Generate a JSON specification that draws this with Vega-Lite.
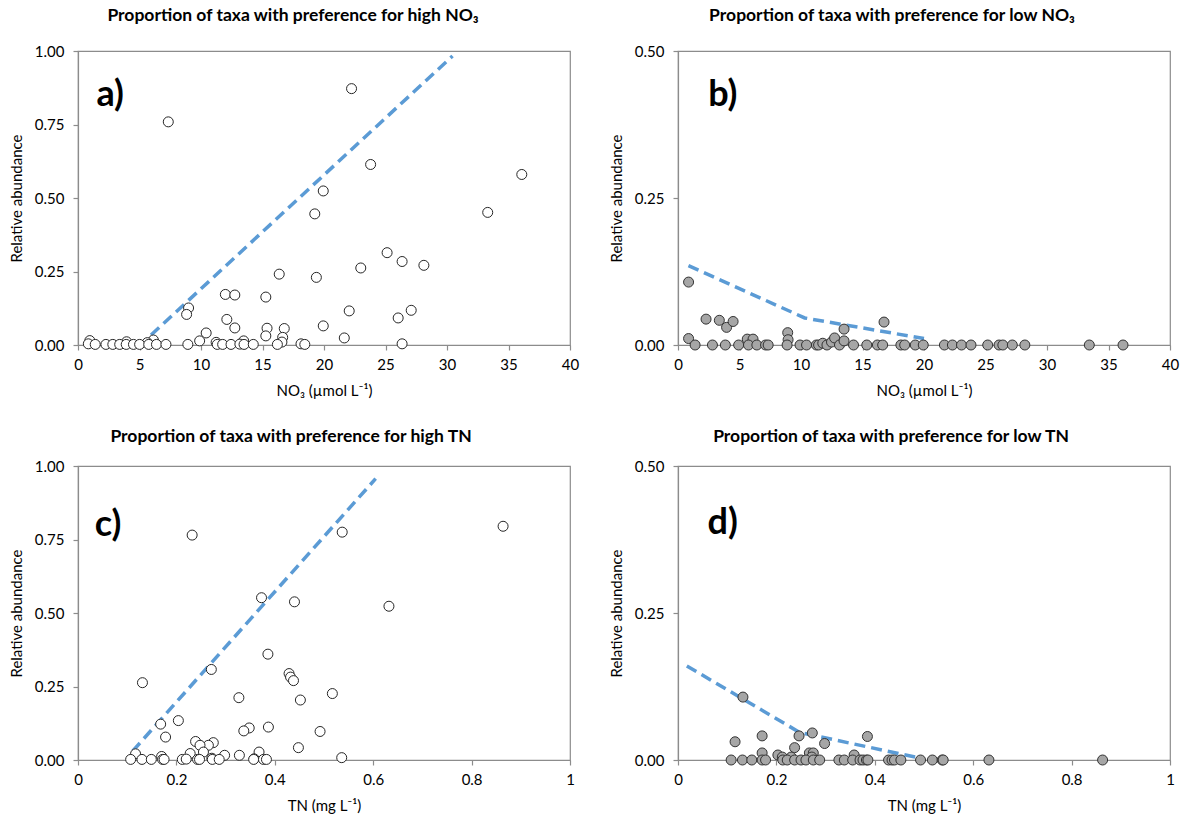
{
  "$schema": "https://vega.github.io/schema/vega-lite/v6.json",
  "background": "white",
  "padding": {"left": 8, "top": 5, "right": 0, "bottom": 0},
  "config": {
    "font": "Lato",
    "view": {"stroke": "#8c8c8c", "strokeWidth": 1.2},
    "axis": {"domainColor": "#8c8c8c", "tickColor": "#8c8c8c", "domainWidth": 1.2, "tickWidth": 1.2, "tickSize": 5, "grid": false, "labelFont": "Lato", "labelFontSize": 15, "labelColor": "#000000", "titleFont": "Lato", "titleFontSize": 15, "titleFontWeight": "normal", "titleColor": "#000000"},
    "axisY": {"labelPadding": 9, "titlePadding": 10},
    "axisX": {"labelPadding": 7, "titlePadding": 11, "labelFlush": false},
    "title": {"font": "Lato", "fontSize": 17.5, "fontWeight": "bold", "color": "#000000", "anchor": "middle"}
  },
  "datasets": {
    "ptsA": [
      {"x": 7.34, "y": 0.759}, {"x": 22.24, "y": 0.872}, {"x": 23.79, "y": 0.614}, {"x": 19.94, "y": 0.524}, {"x": 19.25, "y": 0.446},
      {"x": 36.08, "y": 0.58}, {"x": 33.31, "y": 0.451}, {"x": 25.13, "y": 0.314}, {"x": 26.35, "y": 0.284}, {"x": 28.12, "y": 0.271},
      {"x": 22.99, "y": 0.262}, {"x": 16.36, "y": 0.241}, {"x": 19.38, "y": 0.23}, {"x": 11.98, "y": 0.172}, {"x": 12.75, "y": 0.17},
      {"x": 15.27, "y": 0.163}, {"x": 8.99, "y": 0.126}, {"x": 8.83, "y": 0.104}, {"x": 22.05, "y": 0.116}, {"x": 27.09, "y": 0.118},
      {"x": 26.03, "y": 0.092}, {"x": 12.1, "y": 0.087}, {"x": 19.94, "y": 0.065}, {"x": 12.75, "y": 0.058}, {"x": 15.37, "y": 0.057},
      {"x": 16.77, "y": 0.056}, {"x": 15.27, "y": 0.031}, {"x": 16.64, "y": 0.026}, {"x": 10.42, "y": 0.041}, {"x": 21.65, "y": 0.024},
      {"x": 9.89, "y": 0.014}, {"x": 6.13, "y": 0.017}, {"x": 0.96, "y": 0.015}, {"x": 3.95, "y": 0.011}, {"x": 5.63, "y": 0.008},
      {"x": 13.47, "y": 0.014}, {"x": 11.23, "y": 0.009}, {"x": 16.58, "y": 0.01},
      {"x": 0.84, "y": 0.004}, {"x": 1.4, "y": 0.002}, {"x": 2.27, "y": 0.002}, {"x": 2.83, "y": 0.002}, {"x": 3.39, "y": 0.002},
      {"x": 3.92, "y": 0.002}, {"x": 4.51, "y": 0.002}, {"x": 5.01, "y": 0.002}, {"x": 5.75, "y": 0.002}, {"x": 6.38, "y": 0.002},
      {"x": 7.15, "y": 0.002}, {"x": 8.93, "y": 0.002}, {"x": 11.32, "y": 0.002}, {"x": 11.76, "y": 0.002}, {"x": 12.44, "y": 0.002},
      {"x": 13.16, "y": 0.003}, {"x": 13.5, "y": 0.002}, {"x": 14.25, "y": 0.002}, {"x": 16.21, "y": 0.002}, {"x": 18.13, "y": 0.004},
      {"x": 18.44, "y": 0.002}, {"x": 26.35, "y": 0.004}
    ],
    "lineA": [{"x": 5.94, "y": 0.034}, {"x": 30.45, "y": 0.983}],
    "ptsB": [
      {"x": 0.86, "y": 0.107}, {"x": 0.86, "y": 0.011}, {"x": 1.39, "y": 0}, {"x": 2.28, "y": 0.044}, {"x": 2.8, "y": 0},
      {"x": 3.36, "y": 0.042}, {"x": 3.95, "y": 0.03}, {"x": 4.48, "y": 0.04}, {"x": 3.85, "y": 0}, {"x": 4.93, "y": 0},
      {"x": 5.63, "y": 0.01}, {"x": 6.1, "y": 0.01}, {"x": 5.73, "y": 0}, {"x": 6.41, "y": 0}, {"x": 7.12, "y": 0},
      {"x": 7.33, "y": 0}, {"x": 8.92, "y": 0.021}, {"x": 8.95, "y": 0.009}, {"x": 8.87, "y": 0}, {"x": 9.92, "y": 0},
      {"x": 10.45, "y": 0}, {"x": 11.25, "y": 0}, {"x": 11.43, "y": 0}, {"x": 11.77, "y": 0.003}, {"x": 12.11, "y": 0},
      {"x": 12.48, "y": 0.005}, {"x": 12.73, "y": 0.012}, {"x": 13.13, "y": 0}, {"x": 13.5, "y": 0.007}, {"x": 13.5, "y": 0.027},
      {"x": 14.27, "y": 0}, {"x": 15.35, "y": 0}, {"x": 16.21, "y": 0}, {"x": 16.64, "y": 0}, {"x": 16.75, "y": 0.039},
      {"x": 18.12, "y": 0}, {"x": 18.43, "y": 0}, {"x": 19.29, "y": 0}, {"x": 19.94, "y": 0}, {"x": 21.66, "y": 0},
      {"x": 22.31, "y": 0}, {"x": 23.05, "y": 0}, {"x": 23.82, "y": 0}, {"x": 25.18, "y": 0}, {"x": 26.1, "y": 0},
      {"x": 26.41, "y": 0}, {"x": 27.18, "y": 0}, {"x": 28.2, "y": 0}, {"x": 33.44, "y": 0}, {"x": 36.18, "y": 0}
    ],
    "lineB": [{"x": 0.85, "y": 0.135}, {"x": 10.3, "y": 0.046}, {"x": 20.0, "y": 0.011}],
    "ptsC": [
      {"x": 0.232, "y": 0.765}, {"x": 0.537, "y": 0.775}, {"x": 0.864, "y": 0.795}, {"x": 0.373, "y": 0.552}, {"x": 0.44, "y": 0.538},
      {"x": 0.632, "y": 0.523}, {"x": 0.386, "y": 0.36}, {"x": 0.271, "y": 0.308}, {"x": 0.429, "y": 0.294}, {"x": 0.432, "y": 0.282},
      {"x": 0.438, "y": 0.27}, {"x": 0.131, "y": 0.263}, {"x": 0.517, "y": 0.226}, {"x": 0.327, "y": 0.212}, {"x": 0.452, "y": 0.204},
      {"x": 0.204, "y": 0.134}, {"x": 0.168, "y": 0.122}, {"x": 0.387, "y": 0.112}, {"x": 0.348, "y": 0.109}, {"x": 0.337, "y": 0.099},
      {"x": 0.492, "y": 0.097}, {"x": 0.178, "y": 0.078}, {"x": 0.239, "y": 0.063}, {"x": 0.275, "y": 0.059}, {"x": 0.265, "y": 0.05},
      {"x": 0.248, "y": 0.05}, {"x": 0.448, "y": 0.042}, {"x": 0.255, "y": 0.027}, {"x": 0.368, "y": 0.027}, {"x": 0.228, "y": 0.022},
      {"x": 0.117, "y": 0.021}, {"x": 0.298, "y": 0.016}, {"x": 0.328, "y": 0.016}, {"x": 0.17, "y": 0.012}, {"x": 0.536, "y": 0.008},
      {"x": 0.272, "y": 0.006}, {"x": 0.358, "y": 0.004},
      {"x": 0.107, "y": 0.002}, {"x": 0.13, "y": 0.002}, {"x": 0.149, "y": 0.002}, {"x": 0.172, "y": 0.002}, {"x": 0.175, "y": 0.002},
      {"x": 0.212, "y": 0.002}, {"x": 0.22, "y": 0.003}, {"x": 0.243, "y": 0.002}, {"x": 0.247, "y": 0.002}, {"x": 0.273, "y": 0.002},
      {"x": 0.287, "y": 0.002}, {"x": 0.357, "y": 0.002}, {"x": 0.377, "y": 0.002}, {"x": 0.383, "y": 0.002}
    ],
    "lineC": [{"x": 0.111, "y": 0.03}, {"x": 0.605, "y": 0.957}],
    "ptsD": [
      {"x": 0.132, "y": 0.107}, {"x": 0.116, "y": 0.031}, {"x": 0.171, "y": 0.041}, {"x": 0.246, "y": 0.041}, {"x": 0.273, "y": 0.046},
      {"x": 0.385, "y": 0.04}, {"x": 0.298, "y": 0.028}, {"x": 0.237, "y": 0.021}, {"x": 0.171, "y": 0.012}, {"x": 0.267, "y": 0.012},
      {"x": 0.275, "y": 0.012}, {"x": 0.203, "y": 0.0085}, {"x": 0.358, "y": 0.0085}, {"x": 0.212, "y": 0.005}, {"x": 0.23, "y": 0.005},
      {"x": 0.272, "y": 0.005},
      {"x": 0.108, "y": 0}, {"x": 0.131, "y": 0}, {"x": 0.15, "y": 0}, {"x": 0.171, "y": 0}, {"x": 0.178, "y": 0},
      {"x": 0.213, "y": 0}, {"x": 0.222, "y": 0}, {"x": 0.237, "y": 0}, {"x": 0.25, "y": 0}, {"x": 0.26, "y": 0},
      {"x": 0.275, "y": 0}, {"x": 0.288, "y": 0}, {"x": 0.327, "y": 0}, {"x": 0.338, "y": 0}, {"x": 0.355, "y": 0},
      {"x": 0.37, "y": 0}, {"x": 0.376, "y": 0}, {"x": 0.383, "y": 0}, {"x": 0.386, "y": 0}, {"x": 0.428, "y": 0},
      {"x": 0.435, "y": 0}, {"x": 0.44, "y": 0}, {"x": 0.453, "y": 0}, {"x": 0.493, "y": 0}, {"x": 0.517, "y": 0},
      {"x": 0.537, "y": 0}, {"x": 0.539, "y": 0}, {"x": 0.632, "y": 0}, {"x": 0.863, "y": 0}
    ],
    "lineD": [{"x": 0.018, "y": 0.16}, {"x": 0.247, "y": 0.047}, {"x": 0.482, "y": 0.005}]
  },
  "columns": 2,
  "bounds": "flush",
  "spacing": {"row": 121, "column": 108},
  "concat": [
    {
      "width": 492, "height": 294,
      "title": {"text": "Proportion of taxa with preference for high NO₃", "dx": -31, "offset": 20},
      "encoding": {
        "x": {"field": "x", "type": "quantitative", "scale": {"domain": [0, 40], "nice": false}, "axis": {"values": [0, 5, 10, 15, 20, 25, 30, 35, 40], "format": "d", "title": "NO₃ (µmol L⁻¹)"}},
        "y": {"field": "y", "type": "quantitative", "scale": {"domain": [0, 1], "nice": false}, "axis": {"values": [0, 0.25, 0.5, 0.75, 1], "format": ".2f", "title": "Relative abundance"}}
      },
      "layer": [
        {"data": {"name": "lineA"}, "mark": {"type": "line", "color": "#5b9bd5", "strokeWidth": 3.5, "strokeDash": [11, 6]}},
        {"data": {"name": "ptsA"}, "mark": {"type": "circle", "size": 100, "fill": "#ffffff", "stroke": "#262626", "strokeWidth": 1, "opacity": 1}},
        {"data": {"values": [{"x": 1.5, "y": 0.85, "label": "a)"}]}, "mark": {"type": "text", "font": "Lato", "fontSize": 36, "fontWeight": "bold", "align": "left", "baseline": "middle", "color": "#000000"}, "encoding": {"text": {"field": "label"}}}
      ]
    },
    {
      "width": 492, "height": 294,
      "title": {"text": "Proportion of taxa with preference for low NO₃", "dx": -32, "offset": 20},
      "encoding": {
        "x": {"field": "x", "type": "quantitative", "scale": {"domain": [0, 40], "nice": false}, "axis": {"values": [0, 5, 10, 15, 20, 25, 30, 35, 40], "format": "d", "title": "NO₃ (µmol L⁻¹)"}},
        "y": {"field": "y", "type": "quantitative", "scale": {"domain": [0, 0.5], "nice": false}, "axis": {"values": [0, 0.25, 0.5], "format": ".2f", "title": "Relative abundance"}}
      },
      "layer": [
        {"data": {"name": "lineB"}, "mark": {"type": "line", "color": "#5b9bd5", "strokeWidth": 3.5, "strokeDash": [11, 6]}},
        {"data": {"name": "ptsB"}, "mark": {"type": "circle", "size": 100, "fill": "#a6a6a6", "stroke": "#333333", "strokeWidth": 1, "opacity": 1}},
        {"data": {"values": [{"x": 2.45, "y": 0.425, "label": "b)"}]}, "mark": {"type": "text", "font": "Lato", "fontSize": 36, "fontWeight": "bold", "align": "left", "baseline": "middle", "color": "#000000"}, "encoding": {"text": {"field": "label"}}}
      ]
    },
    {
      "width": 492, "height": 294,
      "title": {"text": "Proportion of taxa with preference for high TN", "dx": -33, "offset": 14},
      "encoding": {
        "x": {"field": "x", "type": "quantitative", "scale": {"domain": [0, 1], "nice": false}, "axis": {"values": [0, 0.2, 0.4, 0.6, 0.8, 1], "format": ".1~f", "title": "TN (mg L⁻¹)"}},
        "y": {"field": "y", "type": "quantitative", "scale": {"domain": [0, 1], "nice": false}, "axis": {"values": [0, 0.25, 0.5, 0.75, 1], "format": ".2f", "title": "Relative abundance"}}
      },
      "layer": [
        {"data": {"name": "lineC"}, "mark": {"type": "line", "color": "#5b9bd5", "strokeWidth": 3.5, "strokeDash": [11, 6]}},
        {"data": {"name": "ptsC"}, "mark": {"type": "circle", "size": 100, "fill": "#ffffff", "stroke": "#262626", "strokeWidth": 1, "opacity": 1}},
        {"data": {"values": [{"x": 0.034, "y": 0.8, "label": "c)"}]}, "mark": {"type": "text", "font": "Lato", "fontSize": 36, "fontWeight": "bold", "align": "left", "baseline": "middle", "color": "#000000"}, "encoding": {"text": {"field": "label"}}}
      ]
    },
    {
      "width": 492, "height": 294,
      "title": {"text": "Proportion of taxa with preference for low TN", "dx": -33, "offset": 14},
      "encoding": {
        "x": {"field": "x", "type": "quantitative", "scale": {"domain": [0, 1], "nice": false}, "axis": {"values": [0, 0.2, 0.4, 0.6, 0.8, 1], "format": ".1~f", "title": "TN (mg L⁻¹)"}},
        "y": {"field": "y", "type": "quantitative", "scale": {"domain": [0, 0.5], "nice": false}, "axis": {"values": [0, 0.25, 0.5], "format": ".2f", "title": "Relative abundance"}}
      },
      "layer": [
        {"data": {"name": "lineD"}, "mark": {"type": "line", "color": "#5b9bd5", "strokeWidth": 3.5, "strokeDash": [11, 6]}},
        {"data": {"name": "ptsD"}, "mark": {"type": "circle", "size": 100, "fill": "#a6a6a6", "stroke": "#333333", "strokeWidth": 1, "opacity": 1}},
        {"data": {"values": [{"x": 0.06, "y": 0.403, "label": "d)"}]}, "mark": {"type": "text", "font": "Lato", "fontSize": 36, "fontWeight": "bold", "align": "left", "baseline": "middle", "color": "#000000"}, "encoding": {"text": {"field": "label"}}}
      ]
    }
  ]
}
